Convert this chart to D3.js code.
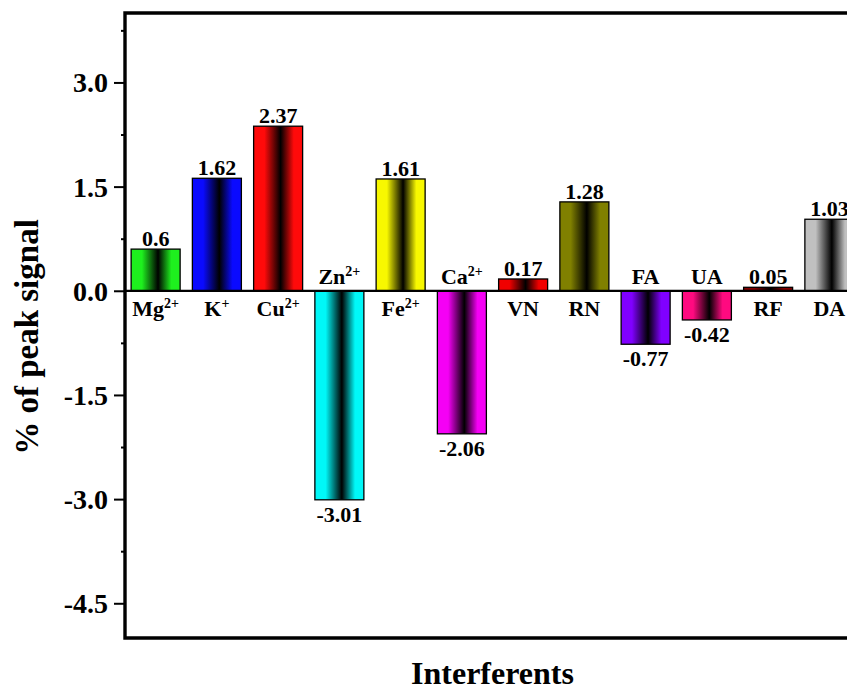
<!DOCTYPE html>
<html>
<head>
<meta charset="utf-8">
<script src="https://cdn.jsdelivr.net/npm/d3@7"></script>
<style>
  html, body { margin: 0; padding: 0; background: #fff; }
  svg { display: block; font-family: "Liberation Serif", "Times New Roman", serif; font-weight: bold; }
</style>
</head>
<body>
<svg id="chart" width="847" height="691"></svg>
<script>
// Interferent species (base name + charge superscript)
const names   = ["Mg", "K", "Cu", "Zn", "Fe", "Ca", "VN", "RN", "FA", "UA", "RF", "DA"];
const charges = ["2+", "+", "2+", "2+", "2+", "2+", "", "", "", "", "", ""];
// Change in peak signal (%)
const values  = [0.6, 1.62, 2.37, -3.01, 1.61, -2.06, 0.17, 1.28, -0.77, -0.42, 0.05, 1.03];
const colors  = ["#1ef01e", "#0a0aff", "#ff0a0a", "#00f8f8", "#f8f800", "#f500f5",
                 "#f00000", "#808000", "#8000ff", "#ff0a80", "#800000", "#c0c0c0"];
const yTicks  = [-4.5, -3.0, -1.5, 0.0, 1.5, 3.0];
const yMinor  = [-3.75, -2.25, -0.75, 0.75, 2.25, 3.75];

const svg = d3.select("#chart");
const plotL = 125, plotR = 860, plotT = 13, plotB = 638;

const x = d3.scaleBand().domain(names).range([plotL, plotR]).paddingInner(0.2).paddingOuter(0.1);
const y = d3.scaleLinear().domain([-5, 4]).range([plotB, plotT]);

// Horizontal shading: colour at the edges, black band near the middle
const defs = svg.append("defs");
names.forEach((n, i) => {
  const g = defs.append("linearGradient").attr("id", "grad" + i)
    .attr("x1", "0%").attr("x2", "100%").attr("y1", "0%").attr("y2", "0%");
  [[0, colors[i]], [0.22, colors[i]], [0.55, "#000"], [0.82, colors[i]], [1, colors[i]]]
    .forEach(([o, c]) => g.append("stop").attr("offset", o).attr("stop-color", c));
});

// Bars
svg.append("g").selectAll("rect").data(values).join("rect")
  .attr("x", (d, i) => x(names[i]))
  .attr("width", x.bandwidth())
  .attr("y", d => y(Math.max(0, d)))
  .attr("height", d => Math.abs(y(d) - y(0)))
  .attr("fill", (d, i) => `url(#grad${i})`)
  .attr("stroke", "#000").attr("stroke-width", 1.3);

// Value labels
svg.append("g").selectAll("text").data(values).join("text")
  .attr("x", (d, i) => x(names[i]) + x.bandwidth() / 2)
  .attr("y", d => d >= 0 ? y(d) - 3 : y(d) + 22)
  .attr("text-anchor", "middle").attr("font-size", 22)
  .text(d => String(d));

// Category labels: below the zero line for positive bars, above it for negative ones
const cat = svg.append("g").selectAll("text").data(values).join("text")
  .attr("x", (d, i) => x(names[i]) + x.bandwidth() / 2)
  .attr("y", d => d >= 0 ? y(0) + 25 : y(0) - 7)
  .attr("text-anchor", "middle").attr("font-size", 22);
cat.append("tspan").text((d, i) => names[i]);
cat.append("tspan").attr("dy", -8).attr("font-size", 14).text((d, i) => charges[i]);

// Zero line
svg.append("line").attr("x1", plotL).attr("x2", plotR)
  .attr("y1", y(0)).attr("y2", y(0)).attr("stroke", "#000").attr("stroke-width", 2.2);

// Y axis with major ticks and small minor ticks (plain hyphen for negatives)
const yAxis = svg.append("g").attr("transform", `translate(${plotL},0)`)
  .call(d3.axisLeft(y).tickValues(yTicks).tickFormat(d => d.toFixed(1)).tickSize(11).tickPadding(6));
yAxis.select(".domain").remove();
yAxis.selectAll(".tick line").attr("stroke-width", 2);
yAxis.selectAll(".tick text").attr("font-size", 28).attr("font-family", "Liberation Serif")
  .attr("font-weight", "bold").attr("fill", "#000").attr("dy", "0.34em");
svg.append("g").attr("transform", `translate(${plotL},0)`)
  .call(d3.axisLeft(y).tickValues(yMinor).tickSize(4).tickFormat(""))
  .call(g => g.select(".domain").remove())
  .selectAll(".tick line").attr("stroke-width", 2);

// Frame
svg.append("path")
  .attr("d", `M${plotR},${plotT}H${plotL}V${plotB}H${plotR}`)
  .attr("fill", "none").attr("stroke", "#000").attr("stroke-width", 3.4);

// Axis titles
svg.append("text").attr("x", (plotL + plotR) / 2).attr("y", 684)
  .attr("text-anchor", "middle").attr("font-size", 32).text("Interferents");
svg.append("text").attr("transform", `translate(38,337) rotate(-90)`)
  .attr("text-anchor", "middle").attr("font-size", 33).text("% of peak signal");
</script>
</body>
</html>
